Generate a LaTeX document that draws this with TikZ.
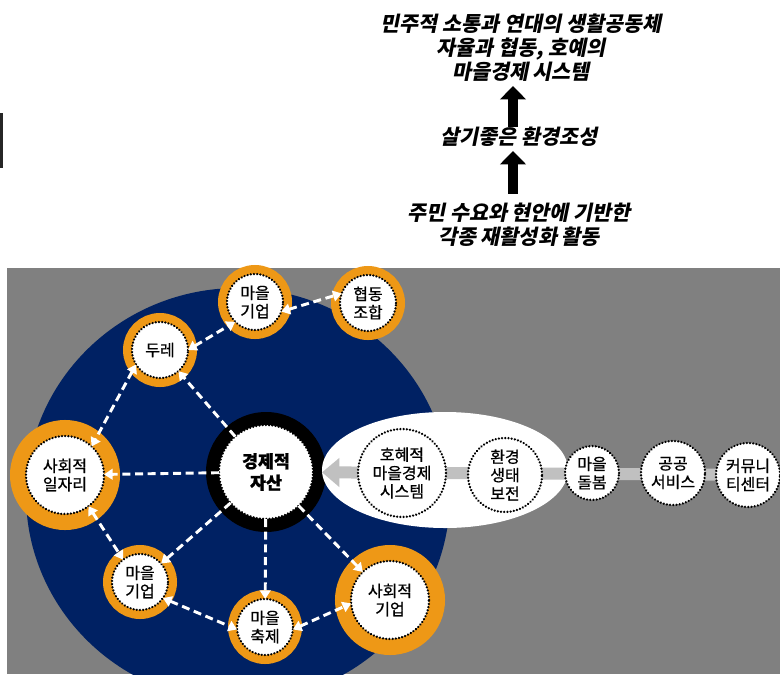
\documentclass[tikz,border=0pt]{standalone}
\usepackage{fontspec}
\newfontfamily\krfont[FakeBold=0.8]{Noto Sans CJK KR}
\newfontfamily\krslant[FakeSlant=0.2]{Noto Sans CJK KR}
\usetikzlibrary{arrows.meta}
\definecolor{PanelGray}{RGB}{128,128,128}
\definecolor{DeepNavy}{RGB}{0,33,99}
\definecolor{RingOrange}{RGB}{238,152,22}
\definecolor{FlowGray}{RGB}{192,192,192}
\tikzset{
  dotcirc/.style={circle,fill=white,draw=black,line width=1.9pt,
    dash pattern=on 0.01pt off 2.4pt,line cap=round,inner sep=0pt,
    outer sep=0pt,align=center,font=\krfont\fontsize{12}{13.8}\selectfont},
  ring/.style={dotcirc,minimum size=42pt,
    preaction={draw=RingOrange,solid,line width=13.5pt}},
  bigring/.style={dotcirc,minimum size=58.5pt,
    preaction={draw=RingOrange,solid,line width=24pt}},
  hub/.style={dotcirc,minimum size=70.5pt,
    font=\krfont\bfseries\fontsize{13}{16}\selectfont},
  headline/.style={align=center,inner sep=0pt,
    font=\krslant\bfseries\fontsize{15.5}{18}\selectfont},
  rise/.style={draw=black,line width=7.5pt,-{Triangle[width=19pt,length=10pt]}},
  flow/.style={draw=FlowGray,line width=9pt,-{Triangle[width=21pt,length=13pt]}},
  link/.style={draw=white,line width=2.2pt,dash pattern=on 6pt off 3.5pt,
    >={Triangle[width=8pt,length=6.5pt]}}
}

\begin{document}
\begin{tikzpicture}[x=0.75pt,y=-0.75pt]
\useasboundingbox (0,0) rectangle (780,674);

\node[headline] (goal) at (521,48) {민주적 소통과 연대의 생활공동체\\자율과 협동, 호예의\\마을경제 시스템};
\node[headline] (env) at (519,137) {살기좋은 환경조성};
\node[headline] (base) at (519,225) {주민 수요와 현안에 기반한\\각종 재활성화 활동};
\draw[rise,shorten >=3pt] ([xshift=-4.5pt]env.north) -- ([xshift=-6pt]goal.south);
\draw[rise,shorten >=3pt,shorten <=7pt] ([xshift=-4.5pt]base.north) -- ([xshift=-4.5pt]env.south);

\fill[black!85] (0,113) rectangle (3,168);

% panel
\fill[PanelGray] (7,268) rectangle (780,674);
\begin{scope}
\clip (7,268) rectangle (780,674);
\fill[DeepNavy] (238,495) ellipse [x radius=212,y radius=207];
\end{scope}
\coordinate (hubpos) at (266,472);
\fill[black] (hubpos) circle (60);
\fill[white] (445,470) ellipse [x radius=123,y radius=58];

\node[hub] (asset) at (hubpos) {경제적\\자산};

\coordinate (feed) at (785,475);
\draw[flow,shorten >=6.75pt] (feed) -- (asset);

\node[dotcirc,minimum size=66pt] (recip) at (402,473) {호혜적\\마을경제\\시스템};
\node[dotcirc,minimum size=55.5pt] (eco) at (505,475) {환경\\생태\\보전};
\node[dotcirc,minimum size=40.5pt] (care) at (592,473) {마을\\돌봄};
\node[dotcirc,minimum size=48pt] (public) at (673,473) {공공\\서비스};
\node[dotcirc,minimum size=48pt] (centre) at (748,475) {커뮤니\\티센터};

\node[ring] (topent) at (255,302) {마을\\기업};
\node[ring] (coop) at (368,303) {협동\\조합};
\node[ring] (dure) at (160,350) {두레};
\node[bigring] (jobs) at (65,475) {사회적\\일자리};
\node[ring] (lowent) at (140,582) {마을\\기업};
\node[ring] (fest) at (265,627) {마을\\축제};
\node[bigring] (socent) at (390,600) {사회적\\기업};

\draw[link,<->] (dure.east) -- (topent.south west);
\draw[link,<->] (topent.-20) -- (coop.160);
\draw[link,<->] (dure.211) -- (jobs.47);
\draw[link,<->] (jobs.-53) -- (lowent.127);
\draw[link,<->] (lowent.-35) -- (fest.185);
\draw[link,<->] (fest.-5) -- (socent.185);
\draw[link,->] (asset) -- (dure);
\draw[link,->] (asset) -- (jobs);
\draw[link,->] (asset) -- (lowent);
\draw[link,->] (asset) -- (fest);
\draw[link,->] (asset) -- (socent);
\end{tikzpicture}
\end{document}
